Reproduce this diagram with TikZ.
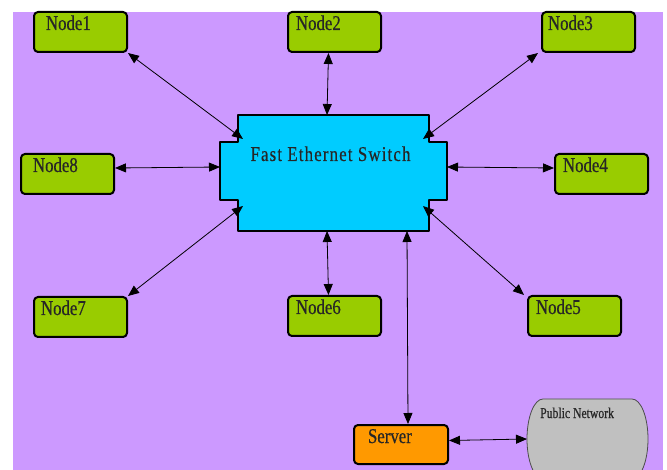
\documentclass[tikz,border=0pt]{standalone}
\usepackage{fontspec}
\usepackage{graphicx}
\setmainfont{Liberation Serif}
\newfontfamily\lblfont[FakeBold=0.6]{Liberation Serif}
\newfontfamily\swfont[LetterSpace=7,FakeBold=0.4]{Liberation Serif}
\usetikzlibrary{arrows.meta,calc}
\definecolor{bgpurple}{HTML}{CC99FF}
\definecolor{nodegreen}{HTML}{99CC00}
\definecolor{swblue}{HTML}{00CCFF}
\definecolor{srvorange}{HTML}{FF9900}
\definecolor{pngray}{HTML}{C0C0C0}
\newcommand\boxlabel[2]{\hspace*{#1pt}\scalebox{0.8}[1]{#2}}
\begin{document}
\begin{tikzpicture}[x=1pt,y=-1pt,line join=round,
  hostbox/.style={draw=black, line width=2pt, rounded corners=4pt, fill=nodegreen,
    anchor=north west, minimum width=93pt, minimum height=40pt, text width=93pt,
    inner xsep=0pt, inner ysep=2pt, text height=16pt, text depth=20pt, align=left,
    text=black!85, font=\lblfont\fontsize{21}{21}\selectfont},
  link/.style={draw=black, line width=0.8pt,
    {Triangle[length=11pt,width=9pt]}-{Triangle[length=11pt,width=9pt]}},
  switchshape/.style={draw=black, line width=2pt, fill=swblue},
  cloudshape/.style={draw=black!70, line width=0.8pt, fill=pngray}]
\useasboundingbox (0,0) rectangle (667,470);
\clip (0,0) rectangle (667,470);
\fill[white] (0,0) rectangle (667,470);
\fill[bgpurple] (13,12) rectangle (663,470);

% switch
\draw[switchshape] (238,115) -- (429,115) -- (429,142) -- (447,142) -- (447,200)
  -- (429,200) -- (429,231) -- (238,231) -- (238,200) -- (220,200) -- (220,142)
  -- (238,142) -- cycle;
\node[font=\swfont\fontsize{21}{21}\selectfont, text=black!85, anchor=base, inner sep=0pt] (swt)
  at (330.5,161) {\scalebox{0.8}[1]{Fast Ethernet Switch}};
\coordinate (swNW) at (243,139);
\coordinate (swN) at (327,115);
\coordinate (swNE) at (423,139);
\coordinate (swE) at (447,167);
\coordinate (swSE) at (423,206);
\coordinate (swS) at (327,231);
\coordinate (swSrv) at (407,231);
\coordinate (swSW) at (243,206);
\coordinate (swW) at (220,167);

% hosts
\node[hostbox] (n1) at (33,11) {\boxlabel{12}{Node1}};
\node[hostbox] (n2) at (287,11) {\boxlabel{8}{Node2}};
\node[hostbox] (n3) at (541,11) {\boxlabel{6}{Node3}};
\node[hostbox] (n4) at (554,153) {\boxlabel{8}{Node4}};
\node[hostbox] (n5) at (527,295) {\boxlabel{8}{Node5}};
\node[hostbox] (n6) at (287,295) {\boxlabel{8}{Node6}};
\node[hostbox] (n7) at (33,296) {\boxlabel{7}{Node7}};
\node[hostbox] (n8) at (20,153) {\boxlabel{12}{Node8}};
\node[hostbox, fill=srvorange, minimum height=39pt, text depth=19pt, text width=94pt,
  minimum width=94pt] (srv) at (353,424) {\boxlabel{14}{Server}};

% public network
\draw[cloudshape] (543,399) -- (632,399)
  arc[start angle=90, end angle=0, x radius=16pt, y radius=40pt]
  arc[start angle=0, end angle=-90, x radius=16pt, y radius=40pt]
  -- (543,479)
  arc[start angle=270, end angle=180, x radius=16pt, y radius=40pt]
  arc[start angle=180, end angle=90, x radius=16pt, y radius=40pt] -- cycle;
\node[anchor=base west, font=\lblfont\fontsize{15}{15}\selectfont, text=black!85, inner sep=0pt] (pnt)
  at (540,418) {\scalebox{0.78}[1]{Public Network}};
\coordinate (pnW) at (527,439);

% connectors
\draw[link] (n1.south east) -- (swNW);
\draw[link] ($(n2.south)+(-6,0)$) -- (swN);
\draw[link] ($(n3.south west)+(-3,0)$) -- (swNE);
\draw[link] ($(n4.west)+(0,-6)$) -- (swE);
\draw[link] ($(n5.north west)+(-3,0)$) -- (swSE);
\draw[link] ($(n6.north)+(-6,0)$) -- (swS);
\draw[link] (n7.north east) -- (swSW);
\draw[link] ($(n8.east)+(0,-6)$) -- (swW);
\draw[link] ($(srv.north)+(7,0)$) -- (swSrv);
\draw[link] ($(srv.east)+(0,-4)$) -- (pnW);
\end{tikzpicture}
\end{document}
